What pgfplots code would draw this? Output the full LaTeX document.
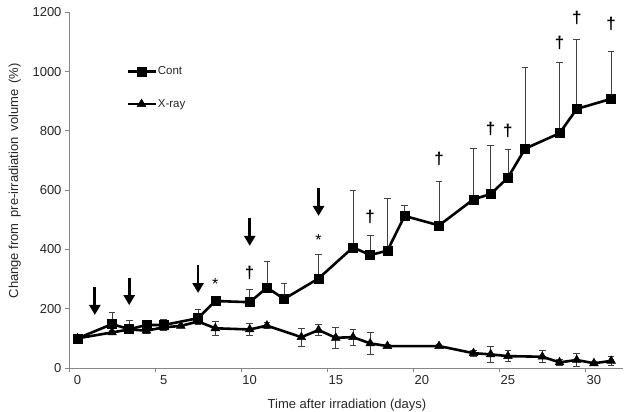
\documentclass[border=0pt]{standalone}
\usepackage{pgfplots}
\usepackage{pgfplotstable}
\pgfplotsset{compat=1.18}
\usepackage{fontspec}
\setmainfont{Liberation Sans}
\usetikzlibrary{arrows.meta}
\definecolor{axgray}{HTML}{868686}
\definecolor{txt}{HTML}{262626}
\definecolor{errc}{HTML}{404040}

\pgfplotstableread{
x y e
0 100 0
2 148 40
3 131 29
4 145 5
5 145 20
7 168 30
8 226 0
10 222 44
11 271 88
12 233 53
14 302 80
16 407 193
17 381 68
18 396 176
19 513 35
21 481 150
23 569 171
24 587 163
25 642 95
26 740 273
28 792 238
29 874 235
31 908 159
}\cont

\pgfplotstableread{
x y e
0 100 0
2 120 8
3 130 10
4 126 8
5 137 10
6 142 5
7 157 10
8 134 23
10 130 20
11 143 10
13 104 30
14 128 18
15 102 35
16 104 27
17 83 38
18 74 6
21 74 5
23 50 10
24 46 28
25 40 18
27 38 20
28 19 10
29 27 22
30 16 5
31 24 14
}\xray

\begin{document}
\begin{tikzpicture}
\path[use as bounding box] (-69pt,-44pt) rectangle (560pt,368pt);
\begin{axis}[
  at={(0pt,0pt)}, anchor=south west,
  scale only axis, width=553.7pt, height=355.7pt,
  xmin=-0.5, xmax=31.67, ymin=0, ymax=1200,
  axis x line=bottom, axis y line=left,
  axis line style={-, axgray, line width=0.8pt},
  tick align=outside, major tick length=4pt,
  tick style={axgray, line width=0.8pt},
  xtick={-0.5,4.5,...,29.5}, xticklabels={0,5,10,15,20,25,30},
  ytick={0,200,...,1200},
  minor tick num=0,
  /pgf/number format/assume math mode=true,
  /pgf/number format/1000 sep={},
  tick label style={font=\fontsize{13}{13}\selectfont, text=txt},
  xticklabel style={xshift=8.6pt},
  xlabel={Time after irradiation (days)},
  ylabel={Change from\, pre-irradiation\, volume\, (\%)},
  label style={font=\fontsize{13}{13}\selectfont, text=txt},
  xlabel style={at={(axis description cs:0.502,0)}, anchor=north, inner sep=0pt, yshift=-31pt},
  ylabel style={at={(axis description cs:0,0.526)}, anchor=south, inner sep=0pt, xshift=-0pt, yshift=48pt},
  legend style={draw=none, fill=none, at={(0.103,0.85)}, anchor=north west,
    font=\fontsize{11.5}{11.5}\selectfont, text=txt, row sep=21pt, inner sep=0pt,
    nodes={inner sep=1pt}},
  legend cell align=left,
  legend image code/.code={\draw[#1, mark repeat=2, mark phase=2] plot coordinates {(0pt,0pt) (14pt,0pt) (28pt,0pt)};},
  clip=false,
]
\addplot[black, line width=2.6pt, mark=square*, mark size=4.5pt, mark options={solid, line width=0.5pt},
  error bars/.cd, y dir=plus, y explicit,
  error bar style={errc, line width=0.8pt},
  error mark options={errc, rotate=90, line width=0.8pt, mark size=3.3pt}]
  table[x=x, y=y, y error=e] {\cont};
\addlegendentry{Cont}
\addplot[black, line width=2.6pt, mark=triangle*, mark size=5pt, mark options={solid, line width=0.5pt},
  error bars/.cd, y dir=both, y explicit,
  error bar style={errc, line width=0.8pt},
  error mark options={errc, rotate=90, line width=0.8pt, mark size=3.3pt}]
  table[x=x, y=y, y error=e] {\xray};
\addlegendentry{X-ray}

\foreach \ax/\ay/\by in {1/273/179, 3/305/212, 7/347/253, 10/506/412, 14/607/513}{
  \edef\tmp{\noexpand\draw[black, line width=2.8pt, -{Triangle[width=11pt,length=10pt]}] (axis cs:\ax,\ay) -- (axis cs:\ax,\by);}
  \tmp
}
\foreach \sx/\sy in {8/295, 14/443}{
  \edef\tmp{\noexpand\node[font=\noexpand\fontsize{16}{16}\noexpand\selectfont, inner sep=0pt, yshift=-3pt] at (axis cs:\sx,\sy) {*};}
  \tmp
}
\foreach \dx/\dy in {10/320, 17/509, 21/704, 24/806, 25/800, 28/1097, 29/1180, 31/1161}{
  \edef\tmp{\noexpand\node[font=\noexpand\fontsize{17}{17}\noexpand\selectfont\noexpand\bfseries, inner sep=0pt] at (axis cs:\dx,\dy) {†};}
  \tmp
}
\end{axis}
\end{tikzpicture}
\end{document}
